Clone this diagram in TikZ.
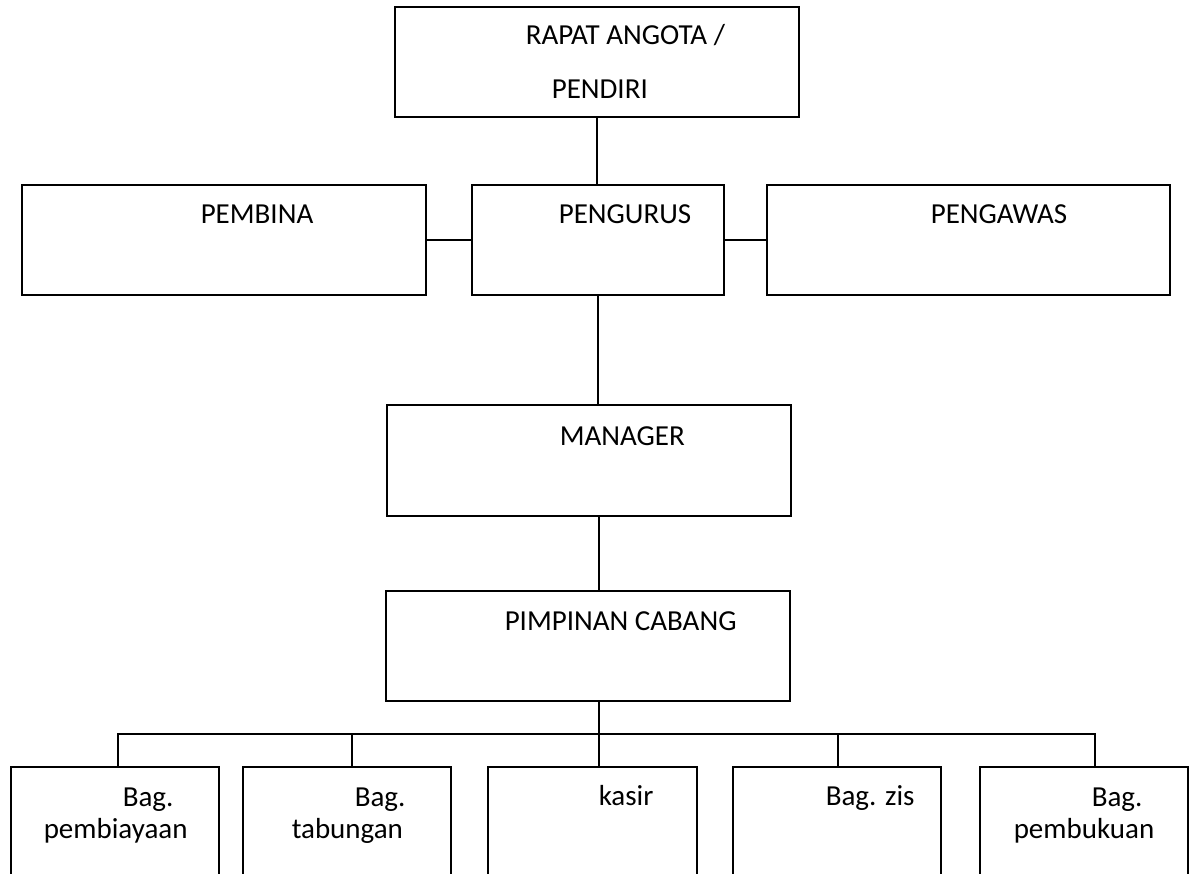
\documentclass[tikz,border=0pt]{standalone}
\usepackage{fontspec}
\setmainfont{Carlito}
\usetikzlibrary{calc}

\begin{document}
\begin{tikzpicture}[x=1pt,y=-1pt,line width=1.5pt,
  kotak/.style={draw,rectangle,inner sep=0pt,minimum height=110pt},
  teks/.style={anchor=base west,inner sep=0pt,font=\fontsize{29}{35}\selectfont}]
\useasboundingbox (0,0) rectangle (1194,874);

% kotak-kotak
\node[kotak,minimum width=404pt] (rapat) at (597,62) {};
\node[kotak,minimum width=404pt] (pembina) at (224,240) {};
\node[kotak,minimum width=252pt] (pengurus) at (598,240) {};
\node[kotak,minimum width=403pt] (pengawas) at (968.5,240) {};
\node[kotak,minimum width=404pt,minimum height=111pt] (manager) at (589,460.5) {};
\node[kotak,minimum width=404pt] (pimpinan) at (588,646) {};
\node[kotak,minimum width=208pt,minimum height=133pt] (bag1) at (115,833.5) {};
\node[kotak,minimum width=208pt,minimum height=133pt] (bag2) at (347,833.5) {};
\node[kotak,minimum width=209pt,minimum height=133pt] (kasir) at (592.5,833.5) {};
\node[kotak,minimum width=208pt,minimum height=133pt] (bag4) at (837,833.5) {};
\node[kotak,minimum width=208pt,minimum height=133pt] (bag5) at (1084,833.5) {};

% tulisan
\node[teks] (trapat) at (525,45) {RAPAT ANGOTA /};
\node[teks] (tpendiri) at (551,99) {PENDIRI};
\node[teks] (tpembina) at (200,224) {PEMBINA};
\node[teks] (tpengurus) at (558,224) {PENGURUS};
\node[teks] (tpengawas) at (930,224) {PENGAWAS};
\node[teks] (tmanager) at (559,445) {MANAGER};
\node[teks] (tpimpinan) at (504,630) {PIMPINAN CABANG};
\node[teks] (tbag1) at (122,806) {Bag.};
\node[teks] (tbiaya) at (43,838) {pembiayaan};
\node[teks] (tbag2) at (354,806) {Bag.};
\node[teks] (ttabung) at (291,838) {tabungan};
\node[teks] (tkasir) at (598,805) {kasir};
\node[teks] (tzis) at (825,805) {Bag. zis};
\node[teks] (tbag5) at (1091,806) {Bag.};
\node[teks] (tbuku) at (1013,838) {pembukuan};

% garis
\coordinate (trunk) at (599,734);
\draw (rapat.south) -- (rapat.south |- pengurus.north);
\draw (pembina.east) -- (pengurus.west);
\draw (pengurus.east) -- (pengawas.west);
\draw (pengurus.south) -- (pengurus.south |- manager.north);
\draw (trunk |- manager.south) -- (trunk |- pimpinan.north);
\draw (trunk |- pimpinan.south) -- (trunk |- kasir.north);
\draw ([xshift=3pt]bag1.north) |- (trunk) -| ([xshift=11pt]bag5.north);
\draw ([xshift=5pt]bag2.north) -- ([xshift=5pt]bag2.north |- trunk);
\draw ([xshift=1pt]bag4.north) -- ([xshift=1pt]bag4.north |- trunk);
\end{tikzpicture}
\end{document}
